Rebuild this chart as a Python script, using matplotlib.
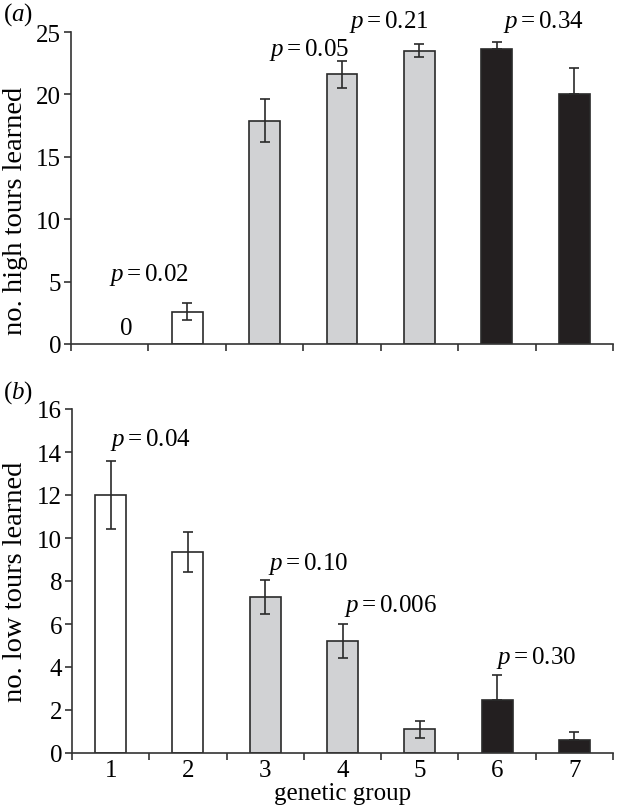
import matplotlib
matplotlib.use("Agg")
import matplotlib.pyplot as plt
import numpy as np

plt.rcParams['font.family'] = ['Liberation Serif', 'DejaVu Serif']
plt.rcParams['mathtext.fontset'] = 'custom'
plt.rcParams['mathtext.rm'] = 'Liberation Serif'
plt.rcParams['mathtext.it'] = 'Liberation Serif:italic'

groups = [1, 2, 3, 4, 5, 6, 7]
group_labels = ['1', '2', '3', '4', '5', '6', '7']
high_vals = [0, 2.6, 17.9, 21.6, 23.5, 23.6, 20.0]
high_err = [0, 0.7, 1.7, 1.1, 0.5, 0.6, 2.1]
low_vals = [12.0, 9.35, 7.25, 5.2, 1.1, 2.45, 0.6]
low_err = [1.6, 0.95, 0.8, 0.8, 0.4, 1.2, 0.4]
group_type = ['white', 'white', 'grey', 'grey', 'grey', 'black', 'black']

high_p = [(1.5, 5.6, '0.02'), (3.57, 23.6, '0.05'), (4.6, 25.9, '0.21'), (6.6, 25.9, '0.34')]
low_p = [(1.52, 14.6, '0.04'), (3.55, 8.85, '0.10'), (4.62, 6.9, '0.006'), (6.5, 4.45, '0.30')]

colors = {'white': '#ffffff', 'grey': '#d1d2d4', 'black': '#231f20'}
edge = '#2a2a2a'
FS = 18
YFS = 20.5

fig = plt.figure(figsize=(6.22, 8.12), dpi=100)
ax1 = fig.add_axes([71/622, 1 - 345/812, 542/622, 312/812])
ax2 = fig.add_axes([72/622, 1 - 754/812, 541/622, 344/812])


def draw(ax, vals, errs, ylim, yticks, ylabel):
    x = np.array(groups, dtype=float)
    fc = [colors[t] for t in group_type]
    for xi, v, e, c, t in zip(x, vals, errs, fc, group_type):
        if v == 0:
            continue
        ax.bar(xi, v, width=0.4, color=c, edgecolor=edge, linewidth=1.2, zorder=2)
        if t == 'black':
            yerr = [[0], [e]]
        else:
            yerr = [[e], [e]]
        ax.errorbar(xi, v, yerr=yerr, fmt='none', ecolor=edge, elinewidth=1.2,
                    capsize=3.5, capthick=1.2, zorder=3)
    ax.set_xlim(0.5, 7.5)
    ax.set_ylim(*ylim)
    ax.set_yticks(yticks)
    ax.set_xticks(np.arange(0.5, 8.0, 1.0))
    ax.set_xticklabels([])
    for s in ['top', 'right']:
        ax.spines[s].set_visible(False)
    for s in ['left', 'bottom']:
        ax.spines[s].set_color('#333333')
        ax.spines[s].set_linewidth(1.2)
    ax.tick_params(axis='both', direction='out', length=5, width=1.2,
                   color='#333333', labelsize=FS, pad=2)
    ax.set_ylabel(ylabel, fontsize=YFS)


draw(ax1, high_vals, high_err, (0, 25), [0, 5, 10, 15, 20, 25], 'no. high tours learned')
draw(ax2, low_vals, low_err, (0, 16), list(range(0, 17, 2)), 'no. low tours learned')
ax1.yaxis.set_label_coords(-0.079, 0.43)
ax2.yaxis.set_label_coords(-0.081, 0.5)

ax2.set_xticks(groups, labels=group_labels, minor=True)
ax2.tick_params(axis='x', which='minor', length=0, labelsize=FS, pad=4)
ax2.set_xlabel('genetic group', fontsize=FS, labelpad=1)

ax1.text(1.22, 1.3, '0', fontsize=FS, ha='center', va='center')
for xp, yp, s in high_p:
    ax1.text(xp, yp, r'$p = $' + s, fontsize=FS, ha='center', va='center', clip_on=False)
for xp, yp, s in low_p:
    ax2.text(xp, yp, r'$p = $' + s, fontsize=FS, ha='center', va='center', clip_on=False)

fig.text(3/622, 1 - 15/812, r'($a$)', fontsize=FS, va='center', ha='left')
fig.text(3/622, 1 - 393/812, r'($b$)', fontsize=FS, va='center', ha='left')

fig.savefig('out.png', dpi=100)
